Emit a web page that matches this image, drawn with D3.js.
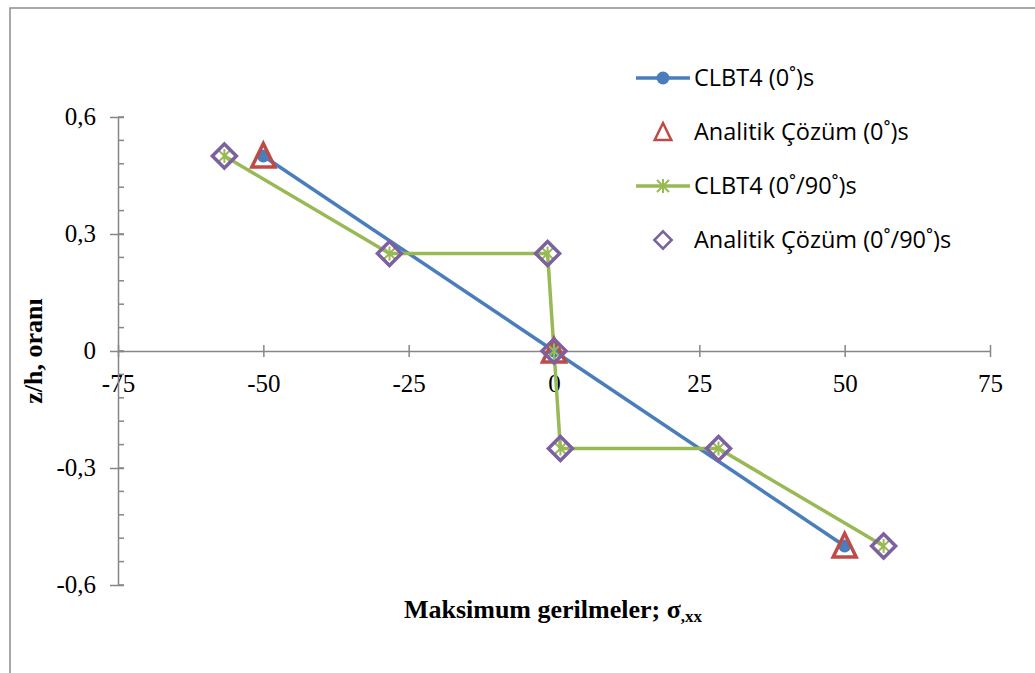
<!DOCTYPE html>
<html>
<head>
<meta charset="utf-8">
<script src="https://cdn.jsdelivr.net/npm/d3@7"></script>
<style>
  body { margin: 0; background: #fff; }
  svg { display: block; }
  .serif { font-family: "Liberation Serif", "Times New Roman", serif; }
</style>
</head>
<body>
<script>
// Veri
const xTicks = [-75, -50, -25, 0, 25, 50, 75];
const yTicks = [-0.6, -0.3, 0, 0.3, 0.6];
const yMinorTicks = d3.range(-0.6, 0.6001, 0.06);

const clbt0_x = [-50, 0, 50];
const clbt0_z = [0.5, 0, -0.5];

const anal0_x = [-50, 0, 50];
const anal0_z = [0.5, 0, -0.5];

const clbt090_x = [-56.7, -28.3, -1.1, 0, 1.1, 28.3, 56.7];
const clbt090_z = [0.5, 0.25, 0.25, 0, -0.25, -0.25, -0.5];

const anal090_x = [-56.7, -28.3, -1.1, 0, 1.1, 28.3, 56.7];
const anal090_z = [0.5, 0.25, 0.25, 0, -0.25, -0.25, -0.5];

const legendLabels = ["CLBT4 (0˚)s", "Analitik Çözüm (0˚)s", "CLBT4 (0˚/90˚)s", "Analitik Çözüm (0˚/90˚)s"];

const blue = "#4a7ebb", red = "#be4b48", green = "#98b954", purple = "#7d60a0";
const axisGray = "#868686";
const serif = "Liberation Serif, Times New Roman, serif";

const width = 1035, height = 673;
const svg = d3.select("body").append("svg")
    .attr("width", width)
    .attr("height", height);

// çerçeve
svg.append("rect")
    .attr("x", 10).attr("y", 8)
    .attr("width", 1040).attr("height", 700)
    .attr("fill", "none")
    .attr("stroke", "#8c8c8c")
    .attr("stroke-width", 1.5);

const xScale = d3.scaleLinear().domain([-75, 75]).range([118, 990]);
const yScale = d3.scaleLinear().domain([-0.6, 0.6]).range([585, 117]);

const fmt = d => String(+d.toFixed(2)).replace(".", ",");

// x ekseni (y=0 konumunda)
const xAxis = svg.append("g")
    .attr("transform", `translate(0,${yScale(0)})`)
    .call(d3.axisBottom(xScale).tickValues(xTicks).tickSize(0).tickFormat(fmt))
    .attr("font-family", serif)
    .attr("font-size", 25);
xAxis.select(".domain").attr("stroke", axisGray).attr("stroke-width", 1.5);
xAxis.selectAll(".tick text")
    .attr("dy", 0).attr("y", 41)
    .attr("class", "serif")
    .attr("fill", "#000");
xAxis.selectAll(".tick").append("line")
    .attr("y1", -6).attr("y2", 6)
    .attr("stroke", axisGray).attr("stroke-width", 1.5);

// y ekseni (x=-75 konumunda)
const yAxis = svg.append("g")
    .attr("transform", `translate(${xScale(-75)},0)`)
    .call(d3.axisLeft(yScale).tickValues(yTicks).tickSize(0).tickFormat(fmt))
    .attr("font-family", serif)
    .attr("font-size", 25);
yAxis.select(".domain").attr("stroke", axisGray).attr("stroke-width", 1.5);
yAxis.selectAll(".tick text")
    .attr("x", -22).attr("dy", "0.3em")
    .attr("class", "serif")
    .attr("fill", "#000");
yAxis.selectAll(".tick").append("line")
    .attr("x1", -8).attr("x2", 6)
    .attr("stroke", axisGray).attr("stroke-width", 1.5);
yAxis.selectAll(".minor")
    .data(yMinorTicks)
    .enter().append("line")
    .attr("x1", 0).attr("x2", 6)
    .attr("y1", d => yScale(d)).attr("y2", d => yScale(d))
    .attr("stroke", axisGray).attr("stroke-width", 1.5);

// eksen başlıkları
svg.append("text")
    .attr("class", "serif")
    .attr("transform", `translate(42,${yScale(0)}) rotate(-90)`)
    .attr("text-anchor", "middle")
    .style("font-size", "26px").style("font-weight", "bold")
    .text("z/h, oranı");

const xt = svg.append("text")
    .attr("class", "serif")
    .attr("x", 553).attr("y", 618)
    .attr("text-anchor", "middle")
    .style("font-size", "26px").style("font-weight", "bold");
xt.append("tspan").text("Maksimum gerilmeler; σ");
xt.append("tspan").attr("dy", 4).style("font-size", "17px").text(",xx");

// çizgiler
const line = d3.line().x(d => xScale(d[0])).y(d => yScale(d[1]));
const clbt0 = d3.zip(clbt0_x, clbt0_z);
const anal0 = d3.zip(anal0_x, anal0_z);
const clbt090 = d3.zip(clbt090_x, clbt090_z);
const anal090 = d3.zip(anal090_x, anal090_z);

svg.append("path").datum(clbt0).attr("d", line)
    .attr("fill", "none").attr("stroke", blue).attr("stroke-width", 3.5);
svg.append("path").datum(clbt090).attr("d", line)
    .attr("fill", "none").attr("stroke", green).attr("stroke-width", 3.5);

// işaretler
function circleMark(g) {
    g.append("circle").attr("r", 6.5).attr("fill", blue);
}
function triMark(g) {
    g.append("path").attr("d", "M0,-12.5L11.5,11L-11.5,11Z")
        .attr("fill", "none").attr("stroke", red).attr("stroke-width", 3.5)
        .attr("stroke-linejoin", "miter");
}
function starMark(g) {
    g.append("path").attr("d", "M-6,-6L6,6M-6,6L6,-6M0,-7L0,7")
        .attr("fill", "none").attr("stroke", green).attr("stroke-width", 2);
}
function diamondMark(g) {
    g.append("path").attr("d", "M0,-12L12,0L0,12L-12,0Z")
        .attr("fill", "none").attr("stroke", purple).attr("stroke-width", 3.5);
}

function drawMarks(data, fn) {
    svg.append("g").selectAll("g")
        .data(data).enter().append("g")
        .attr("transform", d => `translate(${xScale(d[0])},${yScale(d[1])})`)
        .each(function () { fn(d3.select(this)); });
}
drawMarks(clbt0, circleMark);
drawMarks(anal0, triMark);
drawMarks(clbt090, starMark);
drawMarks(anal090, diamondMark);

// lejant
const legendY = [78, 132, 186, 240];
const legendColors = [blue, null, green, null];
const legendMarks = [circleMark,
    g => { g.attr("transform", g.attr("transform") + " scale(0.72)"); triMark(g); },
    starMark,
    g => { g.attr("transform", g.attr("transform") + " scale(0.72)"); diamondMark(g); }];

legendLabels.forEach((lab, i) => {
    const lg = svg.append("g");
    if (legendColors[i]) {
        lg.append("line")
            .attr("x1", 636).attr("x2", 690)
            .attr("y1", legendY[i]).attr("y2", legendY[i])
            .attr("stroke", legendColors[i]).attr("stroke-width", 3.5);
    }
    const m = lg.append("g").attr("transform", `translate(663,${legendY[i]})`);
    legendMarks[i](m);
    lg.append("text")
        .attr("x", 694).attr("y", legendY[i]).attr("dy", "0.36em")
        .style("font-family", "'Open Sans', 'Noto Sans', sans-serif")
        .style("font-size", "23.5px")
        .text(lab);
});
</script>
</body>
</html>
